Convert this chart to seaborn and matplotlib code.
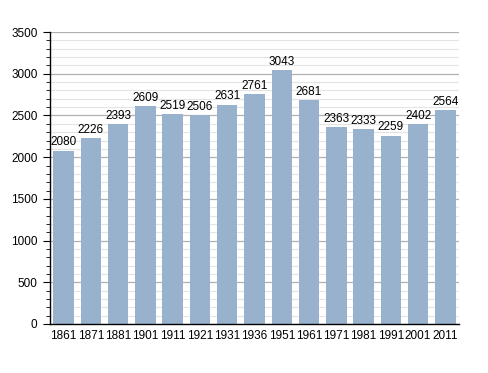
import numpy as np
import pandas as pd
import seaborn as sns
import matplotlib.pyplot as plt
from matplotlib.ticker import MultipleLocator

years = ['1861', '1871', '1881', '1901', '1911', '1921', '1931', '1936',
         '1951', '1961', '1971', '1981', '1991', '2001', '2011']
population = [2080, 2226, 2393, 2609, 2519, 2506, 2631, 2761,
              3043, 2681, 2363, 2333, 2259, 2402, 2564]

df = pd.DataFrame({'year': years, 'population': population})

sns.set_style('white')
plt.rcParams['font.family'] = ['Liberation Sans', 'DejaVu Sans']
plt.rcParams['text.color'] = 'black'

fig = plt.figure(figsize=(4.88, 3.73), dpi=100)
ax = fig.add_axes([0.1025, 0.1314, 0.838, 0.7826])

sns.barplot(data=df, x='year', y='population', color='#98b1cd',
            saturation=1, width=0.75, linewidth=0, ax=ax)
for p in ax.patches:
    p.set_zorder(3)

ax.set_ylim(0, 3500)
ax.set_xlim(-0.5, len(years) - 0.5)
ax.yaxis.set_major_locator(MultipleLocator(500))
ax.yaxis.set_minor_locator(MultipleLocator(100))
ax.grid(which='major', axis='y', color='#b0b0b0', linewidth=0.9, zorder=0)
ax.grid(which='minor', axis='y', color='#e4e4e4', linewidth=0.8, zorder=0)
ax.set_axisbelow(True)

for s in ['top', 'right']:
    ax.spines[s].set_visible(False)
for s in ['left', 'bottom']:
    ax.spines[s].set_color('black')
    ax.spines[s].set_linewidth(1.0)
    ax.spines[s].set_zorder(4)

ax.tick_params(axis='y', which='major', left=True, length=5, width=0.8,
               labelsize=8.5, pad=4, colors='black')
ax.tick_params(axis='y', which='minor', left=True, length=3, width=0.6,
               colors='black')
ax.tick_params(axis='x', bottom=False, labelsize=8.5, pad=0.5,
               labelcolor='black')
ax.set_xlabel('')
ax.set_ylabel('')

for i, v in enumerate(population):
    ax.text(i, v + 25, str(v), ha='center', va='bottom', fontsize=8.5,
            color='black')

plt.savefig('out.png', dpi=100)
